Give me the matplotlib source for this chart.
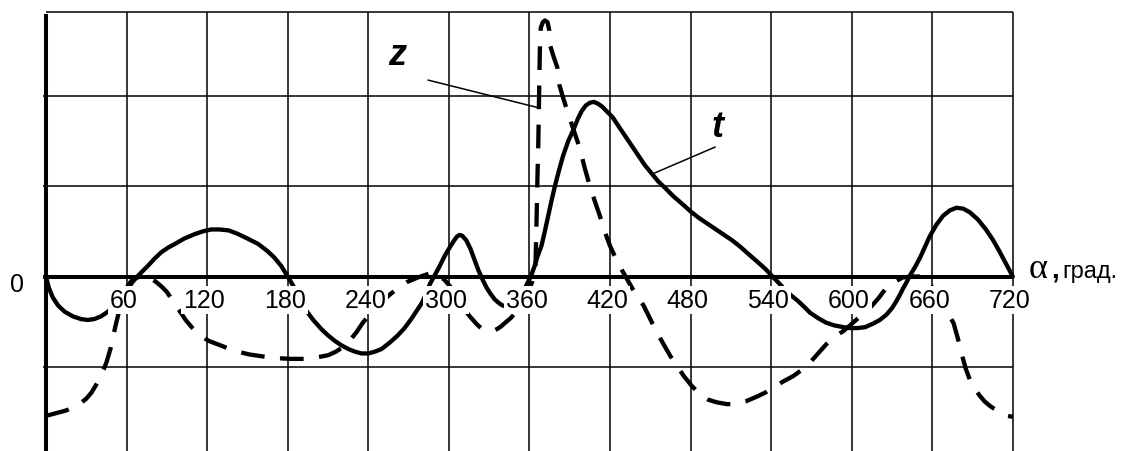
import matplotlib
matplotlib.use("Agg")
import matplotlib.pyplot as plt

plt.rcParams['font.family'] = ['Liberation Sans', 'DejaVu Sans']

# кривая t (сплошная)
t_angle = [0, 2, 5, 9, 14, 20, 26, 31, 36, 41, 46, 51, 56, 61, 65, 68, 72, 76, 81, 86, 91, 96,
           103, 111, 117, 123, 129, 136, 143, 150, 158, 165, 170, 175, 180,
           184, 188, 193, 199, 205, 210, 215, 220, 225, 230, 235, 240, 245, 250, 256, 262, 267,
           272, 276, 280, 283, 286, 289, 293, 297, 301, 304, 306, 308, 310, 313, 316, 319, 322,
           325, 328, 331, 334, 337, 340, 343, 347, 351, 355, 358, 361,
           364, 366, 369, 371.5, 374, 376.5, 379, 382, 385, 389, 393, 396, 399, 402, 405, 408,
           411, 414, 418, 422, 426, 431, 436, 441, 446, 451, 456, 461, 467, 474, 480, 486, 492,
           499, 505, 511, 517, 523, 530, 536, 541,
           545, 550, 555, 560, 565, 569, 575, 581, 587, 594, 599, 604, 610, 616, 621, 626, 630,
           633, 636, 638, 641, 643, 647, 651, 655, 658, 663, 668, 673, 678, 683, 688, 694, 700,
           705, 710, 715, 720]
t_value = [0, -0.12, -0.23, -0.32, -0.39, -0.44, -0.47, -0.48, -0.47, -0.44, -0.39, -0.32,
           -0.23, -0.13, -0.05, 0.0, 0.06, 0.12, 0.20, 0.27, 0.32, 0.36,
           0.42, 0.47, 0.50, 0.52, 0.52, 0.51, 0.47, 0.42, 0.36, 0.28, 0.21, 0.12, 0.0,
           -0.10, -0.22, -0.36, -0.48, -0.58, -0.65, -0.71, -0.76, -0.80, -0.83, -0.85, -0.85,
           -0.83, -0.80, -0.73, -0.65, -0.57,
           -0.47, -0.38, -0.29, -0.19, -0.08, 0.0, 0.11, 0.23, 0.33, 0.40, 0.44, 0.46, 0.45,
           0.40, 0.31, 0.19, 0.07,
           -0.03, -0.12, -0.19, -0.25, -0.29, -0.32, -0.33, -0.32, -0.27, -0.18, -0.09, 0.0,
           0.12, 0.22, 0.34, 0.50, 0.67, 0.84, 1.0, 1.17, 1.33, 1.50, 1.63, 1.74, 1.83, 1.89,
           1.92, 1.93,
           1.91, 1.88, 1.82, 1.76, 1.67, 1.56, 1.45, 1.34, 1.23, 1.14, 1.05, 0.98, 0.89, 0.80,
           0.72, 0.65, 0.59,
           0.52, 0.46, 0.40, 0.33, 0.25, 0.16, 0.08, 0.0,
           -0.06, -0.14, -0.21, -0.27, -0.34, -0.40, -0.46, -0.51, -0.54, -0.56, -0.57, -0.57,
           -0.56, -0.52, -0.48, -0.42, -0.35,
           -0.28, -0.20, -0.14, -0.06, 0.0, 0.10, 0.21, 0.34, 0.44, 0.57, 0.67, 0.73, 0.76,
           0.75, 0.71, 0.63, 0.52,
           0.41, 0.28, 0.14, 0.0]

# кривая z (штриховая)
z_angle = [0, 5, 10, 15, 20, 25, 30, 34, 38, 42, 45, 48, 50, 52, 54, 56, 58, 61, 64, 68, 73,
           78, 82, 86, 90, 95, 100, 104, 108.5, 114, 121, 128, 135, 143, 151, 160, 170, 182,
           193, 203, 210, 216, 221, 226, 231, 236, 241, 246, 251, 256, 262, 269, 277, 285, 291,
           297, 301, 305, 309, 312, 315, 318, 321, 324, 327, 330, 333, 336, 339, 342, 346, 349,
           352, 355, 358, 360, 362, 363.5, 364.5, 365.3, 366, 366.6, 367.3, 367.9, 368.5, 370,
           371.6, 373.5, 374.8, 375.5, 378, 380.8, 382.3, 385, 387.8, 392, 397.7, 401, 405,
           409, 412.5, 416, 420, 424, 427, 432, 437, 441, 445, 450, 455, 460, 465, 470, 475,
           481, 487, 493, 499.5, 507, 514, 521, 529, 536, 542, 549, 556.5, 563, 569, 575, 581,
           587, 594, 598, 602.5, 608, 614, 620, 625, 629, 632, 638, 645, 653, 657, 660, 665,
           668, 671, 673, 676, 679, 682, 685, 688, 691, 695, 699, 703, 708, 712, 716, 720]
z_value = [-1.54, -1.52, -1.50, -1.48, -1.45, -1.41, -1.35, -1.28, -1.18, -1.06, -0.95, -0.80,
           -0.66, -0.53, -0.41, -0.30, -0.20, -0.10, -0.04, -0.01, 0.0,
           -0.02, -0.06, -0.11, -0.17, -0.28, -0.39, -0.48, -0.56, -0.64, -0.71, -0.75, -0.79,
           -0.83, -0.86, -0.88, -0.90, -0.91,
           -0.91, -0.89, -0.87, -0.83, -0.78, -0.71, -0.62, -0.51, -0.42, -0.34, -0.27, -0.20,
           -0.13, -0.06, -0.01, 0.03, 0.03,
           -0.04, -0.11, -0.20, -0.30, -0.37, -0.43, -0.48, -0.53, -0.57, -0.59, -0.60, -0.60,
           -0.58, -0.55, -0.51, -0.46, -0.41,
           -0.36, -0.30, -0.22, -0.14, -0.06, 0.02, 0.10, 0.60, 1.10, 1.45, 2.10, 2.60, 2.75,
           2.81,
           2.83, 2.81, 2.72, 2.55, 2.43, 2.31, 2.12, 1.98, 1.85, 1.66, 1.41, 1.21, 1.0,
           0.82, 0.67, 0.50, 0.34, 0.21, 0.12, -0.01, -0.14, -0.23, -0.32, -0.47, -0.62, -0.75,
           -0.88, -0.99, -1.10,
           -1.21, -1.30, -1.36, -1.39, -1.41, -1.41, -1.38, -1.33, -1.28, -1.22, -1.16, -1.10,
           -1.03, -0.95, -0.85, -0.75,
           -0.67, -0.60, -0.55, -0.49, -0.42, -0.34, -0.24, -0.14, -0.09, -0.06, -0.01, 0.0,
           0.0, -0.05, -0.12, -0.25,
           -0.32, -0.39, -0.44, -0.52, -0.68, -0.86, -1.02, -1.14, -1.22, -1.31, -1.38, -1.43,
           -1.48, -1.51, -1.54, -1.55]

x_ticks = [60, 120, 180, 240, 300, 360, 420, 480, 540, 600, 660, 720]
y_grid = [-1, 1, 2]
y_low, y_high = -1.928, 2.923

fig = plt.figure(figsize=(11.4, 4.52), dpi=100)
ax = fig.add_axes([46 / 1140, 0, 966.8 / 1140, 439 / 452])
ax.set_xlim(0, 720)
ax.set_ylim(y_low, y_high)
ax.axis("off")

# сетка
ax.vlines(x_ticks, y_low, y_high, colors="black", lw=1.1, clip_on=False, zorder=1)
ax.hlines(y_grid, -2.5, 720, colors="black", lw=1.1, clip_on=False, zorder=1)
ax.hlines(y_high, 0, 720, colors="black", lw=1.1, clip_on=False, zorder=1)
ax.hlines(0, -2.5, 720, colors="black", lw=2.9, clip_on=False, zorder=2)
ax.vlines(0, y_low, y_high - 0.02, colors="black", lw=2.9, clip_on=False, zorder=2)

ax.plot(t_angle, t_value, color="black", lw=3.1, solid_joinstyle="round",
        solid_capstyle="round", clip_on=False, zorder=3)
ax.plot(z_angle, z_value, color="black", lw=3.1, linestyle=(0, (5.5, 3.6)),
        dash_capstyle="butt", dash_joinstyle="round", clip_on=False, zorder=3)

box = dict(boxstyle="square,pad=0.08", fc="white", ec="none")
for x in x_ticks:
    ax.annotate(str(x), xy=(x, 0), xytext=(-2, -22), textcoords="offset points",
                ha="center", va="baseline", fontsize=18, bbox=box, zorder=5)
ax.annotate("0", xy=(0, 0), xytext=(-21, -10.5), textcoords="offset points",
            ha="center", va="baseline", fontsize=18, zorder=5)

# подпись оси
ax.annotate("α", xy=(720, 0), xytext=(11.5, 0), textcoords="offset points",
            ha="left", va="baseline", fontsize=26, family=["Liberation Serif", "DejaVu Serif"])
ax.annotate(",", xy=(720, 0), xytext=(27.5, 0), textcoords="offset points",
            ha="left", va="baseline", fontsize=20, fontweight="bold")
ax.annotate("град.", xy=(720, 0), xytext=(36, 0), textcoords="offset points",
            ha="left", va="baseline", fontsize=17)

# обозначения кривых
ax.text(261.8, 2.35, "z", ha="center", va="baseline", fontsize=26,
        fontweight="bold", fontstyle="italic")
ax.plot([284.7, 365.4], [2.17, 1.87], color="black", lw=1.1, zorder=4)
ax.text(500.4, 1.55, "t", ha="center", va="baseline", fontsize=26,
        fontweight="bold", fontstyle="italic")
ax.plot([498.2, 451.1], [1.43, 1.13], color="black", lw=1.1, zorder=4)

fig.savefig("out.png", dpi=100)
